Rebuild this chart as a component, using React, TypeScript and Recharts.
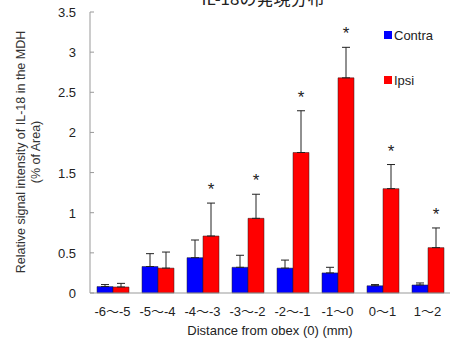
import React from 'react';
import { BarChart, Bar, XAxis, YAxis, ErrorBar, LabelList } from 'recharts';

const categories = ['-6～-5', '-5～-4', '-4～-3', '-3～-2', '-2～-1', '-1～0', '0～1', '1～2'];
const contra = [0.08, 0.33, 0.44, 0.32, 0.31, 0.25, 0.09, 0.1];
const contraErr = [0.025, 0.16, 0.22, 0.15, 0.1, 0.07, 0.015, 0.025];
const ipsi = [0.075, 0.31, 0.71, 0.93, 1.75, 2.68, 1.3, 0.565];
const ipsiErr = [0.045, 0.2, 0.41, 0.3, 0.52, 0.38, 0.3, 0.245];
const significant = [false, false, true, true, true, true, true, true];
const yTicks = [0, 0.5, 1, 1.5, 2, 2.5, 3, 3.5];
const legendItems = [
  { label: 'Contra', color: '#0000ff' },
  { label: 'Ipsi', color: '#ff0000' },
];

const data = categories.map((name, i) => ({
  name,
  contra: contra[i],
  contraErr: [0, contraErr[i]],
  ipsi: ipsi[i],
  ipsiErr: [0, ipsiErr[i]],
}));

const font = 'Arial, "Liberation Sans", "Noto Sans CJK JP", sans-serif';

const YTick = (props: any) => {
  const { x, y, payload } = props;
  return (
    <g>
      <line x1={x + 14} x2={x + 18} y1={y} y2={y} stroke="#999" />
      <text x={x} y={y} dy={5} textAnchor="end" fontSize={13} fill="#222" fontFamily={font}>
        {payload.value}
      </text>
    </g>
  );
};

const Star = (props: any) => {
  const { x, y, width, height, value, index } = props;
  if (!significant[index] || !value) return null;
  const pxPerUnit = height / value;
  const top = y - ipsiErr[index] * pxPerUnit;
  return (
    <text x={x + width / 2} y={top - 8} textAnchor="middle" fontSize={17} fill="#222" fontFamily={font}>
      *
    </text>
  );
};

export default function App() {
  return (
    <div style={{ position: 'absolute', left: 0, top: 0, width: 450, height: 347, background: '#fff' }}>
      <BarChart
        width={450}
        height={347}
        data={data}
        margin={{ top: 12, right: 0, bottom: 24, left: 0 }}
        barGap={0}
        barSize={16}
      >
        <text x={263} y={5} textAnchor="middle" fontSize={17} fill="#222" fontFamily='"Noto Sans CJK JP", sans-serif'>
          IL-18の発現分布
        </text>
        <text
          transform="translate(25,152) rotate(-90)"
          textAnchor="middle"
          fontSize={12.5}
          fill="#333"
          fontFamily={font}
        >
          Relative signal intensity of IL-18 in the MDH
        </text>
        <text
          transform="translate(40,152) rotate(-90)"
          textAnchor="middle"
          fontSize={12.5}
          fill="#333"
          fontFamily={font}
        >
          (% of Area)
        </text>
        <text x={270} y={335} textAnchor="middle" fontSize={13} fill="#222" fontFamily={font}>
          Distance from obex (0) (mm)
        </text>
        <XAxis
          dataKey="name"
          tickLine={false}
          axisLine={{ stroke: '#999' }}
          tick={{ fontSize: 13, fill: '#222', fontFamily: font }}
          tickMargin={8}
          interval={0}
        />
        <YAxis
          width={90}
          domain={[0, 3.5]}
          ticks={yTicks}
          tickSize={0}
          tickMargin={14}
          tick={<YTick />}
          axisLine={{ stroke: '#999' }}
        />
        <Bar dataKey="contra" name="Contra" fill="#0000ff" stroke="#222" strokeWidth={0.5} isAnimationActive={false}>
          <ErrorBar dataKey="contraErr" width={4} stroke="#222" strokeWidth={1} direction="y" />
        </Bar>
        <Bar dataKey="ipsi" name="Ipsi" fill="#ff0000" stroke="#222" strokeWidth={0.5} isAnimationActive={false}>
          <ErrorBar dataKey="ipsiErr" width={4} stroke="#222" strokeWidth={1} direction="y" />
          <LabelList dataKey="ipsi" content={<Star />} />
        </Bar>
      </BarChart>
      <div style={{ position: 'absolute', left: 384, top: 27, fontFamily: font, fontSize: 13, color: '#222' }}>
        {legendItems.map((d) => (
          <div key={d.label} style={{ display: 'flex', alignItems: 'center', height: 16, marginBottom: 29 }}>
            <span style={{ display: 'inline-block', width: 8, height: 8, background: d.color, marginRight: 2 }} />
            {d.label}
          </div>
        ))}
      </div>
    </div>
  );
}
